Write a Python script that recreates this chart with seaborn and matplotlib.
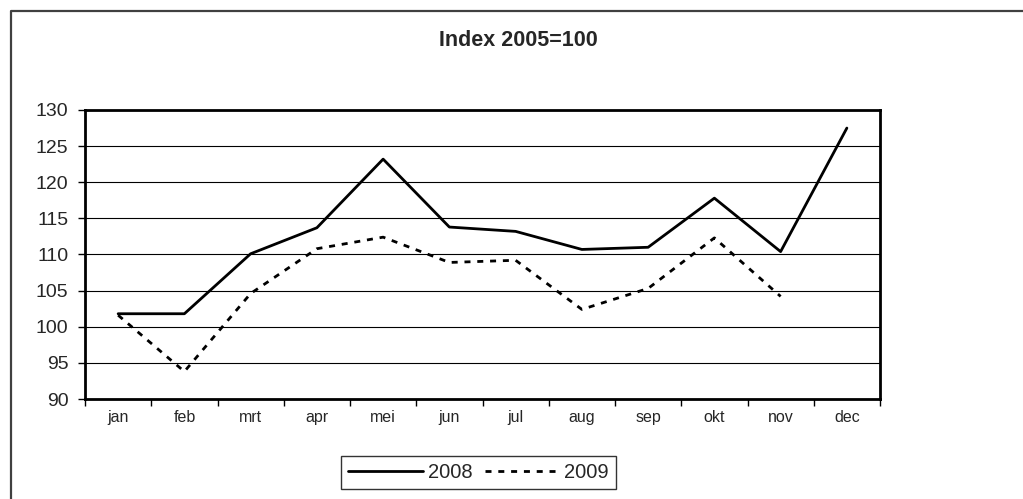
import numpy as np
import pandas as pd
import matplotlib
matplotlib.use("Agg")
import matplotlib.pyplot as plt
from matplotlib.lines import Line2D
import seaborn as sns

months = ["jan", "feb", "mrt", "apr", "mei", "jun", "jul", "aug", "sep", "okt", "nov", "dec"]
idx_2008 = [101.8, 101.8, 110.1, 113.7, 123.2, 113.8, 113.2, 110.7, 111.0, 117.8, 110.4, 127.5]
idx_2009 = [101.6, 93.8, 104.6, 110.8, 112.4, 108.9, 109.2, 102.4, 105.3, 112.3, 104.2, np.nan]
y_ticks = [90, 95, 100, 105, 110, 115, 120, 125, 130]

W, H = 1023, 499
DASH = (2.16, 2.45)

sns.set_style("white")
plt.rcParams["font.family"] = ["Liberation Sans", "DejaVu Sans"]

df = pd.DataFrame({"maand": months * 2,
                   "index": idx_2008 + idx_2009,
                   "jaar": ["2008"] * 12 + ["2009"] * 12})
df["pos"] = list(range(12)) * 2

fig = plt.figure(figsize=(W / 100, H / 100), dpi=100)
ax = fig.add_axes([85 / W, 1 - 399 / H, (880 - 85) / W, (399 - 110) / H])

sns.lineplot(data=df[df["jaar"] == "2008"], x="pos", y="index", ax=ax,
             color="black", lw=2.0, label="2008")
sns.lineplot(data=df[df["jaar"] == "2009"].dropna(), x="pos", y="index", ax=ax,
             color="black", lw=2.0, label="2009")
ax.lines[1].set_dashes(DASH)

# gridlines
for v in y_ticks:
    ax.axhline(v, color="black", lw=0.8, zorder=0)

ax.set_xlim(-0.5, 11.5)
ax.set_ylim(90, 130)
ax.set_yticks(y_ticks)
ax.set_yticklabels([str(v) for v in y_ticks], fontsize=14)
ax.set_xticks(np.arange(-0.5, 12, 1))
ax.set_xticklabels([])
ax.set_xticks(range(12), minor=True)
ax.set_xticklabels(months, minor=True, fontsize=11.5)
ax.tick_params(axis="x", which="major", direction="out", length=5, width=1, color="black", bottom=True)
ax.tick_params(axis="x", which="minor", length=0, pad=8)
ax.tick_params(axis="y", direction="out", length=5, width=1, color="black", left=True, pad=7)
ax.set_xlabel("")
ax.set_ylabel("")
for s in ax.spines.values():
    s.set_color("black")
    s.set_linewidth(2.0)

if ax.get_legend():
    ax.get_legend().remove()
handles = [Line2D([], [], color="black", lw=2.0),
           Line2D([], [], color="black", lw=2.0, linestyle=(0, DASH))]
leg = fig.legend(handles, ["2008", "2009"], loc="center", bbox_to_anchor=(478.5 / W, 1 - 472.5 / H),
                 ncol=2, fontsize=14.5, frameon=True, fancybox=False, handlelength=3.7,
                 handletextpad=0.25, columnspacing=0.6, borderpad=0.35)
leg.get_frame().set_edgecolor("black")
leg.get_frame().set_linewidth(1.0)

fig.text(518 / W, 1 - 41 / H, "Index 2005=100", ha="center", va="center",
         fontsize=15.5, fontweight="bold")

# outer chart frame (cropped)
fig.add_artist(Line2D([11 / W, 11 / W, 1.0], [0.0, 1 - 11 / H, 1 - 11 / H],
                      transform=fig.transFigure, color="#404040", lw=1.6))

fig.savefig("out.png", dpi=100)
